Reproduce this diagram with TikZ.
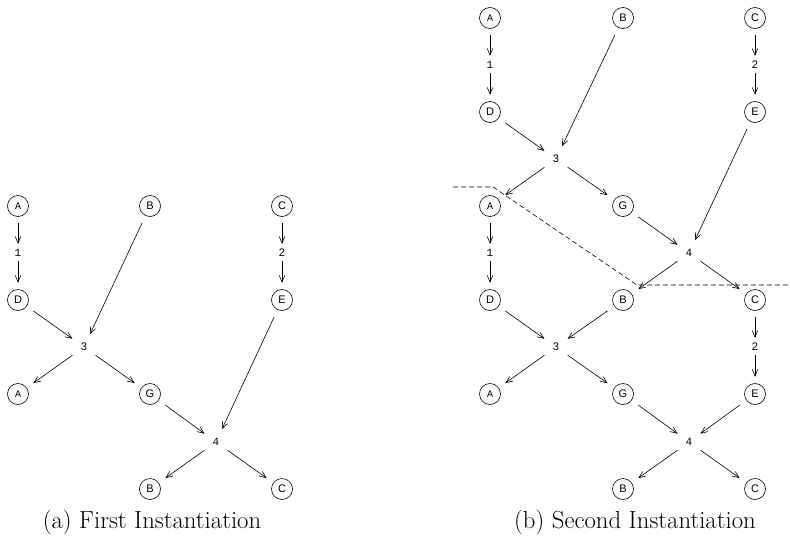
\documentclass[tikz,border=0pt]{standalone}
\usepackage{fontspec}
\setsansfont{Liberation Sans}
\setmonofont{Liberation Mono}
\usetikzlibrary{arrows.meta}

\begin{document}
\begin{tikzpicture}[x=1pt,y=-1pt,
  st/.style={circle,draw,line width=0.6pt,minimum size=21pt,inner sep=0pt,
             font=\sffamily\fontsize{11}{11}\selectfont},
  stt/.style={st,font=\ttfamily\fontsize{10}{10}\selectfont},
  num/.style={circle,minimum size=16pt,inner sep=0pt,
              font=\sffamily\fontsize{11}{11}\selectfont},
  numt/.style={num,font=\ttfamily\fontsize{11}{11}\selectfont},
  arr/.style={-{Straight Barb[length=6.5pt,width=5.5pt]},line width=0.6pt},
  vdown/.style={arr,shorten <=6.5pt,shorten >=1pt},
  vup/.style={arr,shorten <=0pt,shorten >=6.5pt},
  intonum/.style={arr,shorten <=8pt,shorten >=6pt},
  outofnum/.style={arr,shorten <=6pt,shorten >=8pt},
  captext/.style={font=\rmfamily\fontsize{24.75}{30}\selectfont,anchor=base}
]
\useasboundingbox (0,0) rectangle (790,541);

% ---------- (a) First Instantiation ----------
\node[stt] (aA1) at (18,206) {A};
\node[st]  (aB1) at (150,206) {B};
\node[st]  (aC1) at (282,206) {C};
\node[numt] (a1) at (18,253) {1};
\node[num]  (a2) at (282,253) {2};
\node[st]  (aD1) at (18,300) {D};
\node[st]  (aE1) at (282,300) {E};
\node[num]  (a3) at (84,347) {3};
\node[stt] (aA2) at (18,394) {A};
\node[st]  (aG1) at (150,394) {G};
\node[numt] (a4) at (216,442) {4};
\node[st]  (aB2) at (150,489) {B};
\node[st]  (aC2) at (282,489) {C};

\draw[vdown] (aA1) -- (a1);
\draw[vup]   (a1) -- (aD1);
\draw[vdown] (aC1) -- (a2);
\draw[vup]   (a2) -- (aE1);
\draw[intonum] (aD1) -- (a3);
\draw[intonum] (aB1) -- (a3);
\draw[outofnum] (a3) -- (aA2);
\draw[outofnum] (a3) -- (aG1);
\draw[intonum] (aG1) -- (a4);
\draw[intonum] (aE1) -- (a4);
\draw[outofnum] (a4) -- (aB2);
\draw[outofnum] (a4) -- (aC2);

\node[captext] (capa) at (152,528) {(a) First Instantiation};

% ---------- (b) Second Instantiation ----------
\node[stt] (bA1) at (490,18) {A};
\node[st]  (bB1) at (623,18) {B};
\node[st]  (bC1) at (755,18) {C};
\node[numt] (b1) at (490,65) {1};
\node[num]  (b2) at (755,65) {2};
\node[st]  (bD1) at (490,112) {D};
\node[st]  (bE1) at (755,112) {E};
\node[num]  (b3) at (556,159) {3};
\node[stt] (bA2) at (490,206) {A};
\node[st]  (bG1) at (623,206) {G};
\node[numt] (b4) at (689,253) {4};
\node[numt] (b1b) at (490,253) {1};
\node[st]  (bD2) at (490,300) {D};
\node[st]  (bB2) at (623,300) {B};
\node[st]  (bC2) at (755,300) {C};
\node[num]  (b3b) at (556,347) {3};
\node[num]  (b2b) at (755,347) {2};
\node[stt] (bA3) at (490,394) {A};
\node[st]  (bG2) at (623,394) {G};
\node[st]  (bE2) at (755,394) {E};
\node[numt] (b4b) at (689,442) {4};
\node[st]  (bB3) at (623,489) {B};
\node[st]  (bC3) at (755,489) {C};

\draw[vdown] (bA1) -- (b1);
\draw[vup]   (b1) -- (bD1);
\draw[vdown] (bC1) -- (b2);
\draw[vup]   (b2) -- (bE1);
\draw[intonum] (bD1) -- (b3);
\draw[intonum] (bB1) -- (b3);
\draw[outofnum] (b3) -- (bA2);
\draw[outofnum] (b3) -- (bG1);
\draw[intonum] (bG1) -- (b4);
\draw[intonum] (bE1) -- (b4);
\draw[outofnum] (b4) -- (bB2);
\draw[outofnum] (b4) -- (bC2);

\draw[vdown] (bA2) -- (b1b);
\draw[vup]   (b1b) -- (bD2);
\draw[intonum] (bD2) -- (b3b);
\draw[intonum] (bB2) -- (b3b);
\draw[outofnum] (b3b) -- (bA3);
\draw[outofnum] (b3b) -- (bG2);
\draw[vdown] (bC2) -- (b2b);
\draw[vup]   (b2b) -- (bE2);
\draw[intonum] (bG2) -- (b4b);
\draw[intonum] (bE2) -- (b4b);
\draw[outofnum] (b4b) -- (bB3);
\draw[outofnum] (b4b) -- (bC3);

% cut line between the two unrolled copies
\coordinate (cut0) at (453,187);
\coordinate (cut1) at (493,187);
\coordinate (cut2) at (637,285);
\coordinate (cut3) at (790,285);
\draw[line width=0.6pt,dash pattern=on 5pt off 3pt] (cut0) -- (cut1) -- (cut2) -- (cut3);

\node[captext] (capb) at (635,528) {(b) Second Instantiation};
\end{tikzpicture}
\end{document}
